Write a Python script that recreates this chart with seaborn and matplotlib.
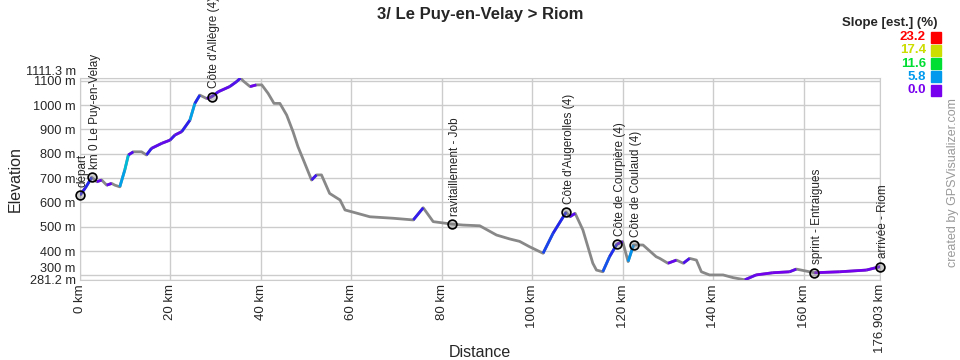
import numpy as np
import pandas as pd
import seaborn as sns
import matplotlib.pyplot as plt
from matplotlib.collections import LineCollection
from matplotlib.colors import LinearSegmentedColormap
from matplotlib.patches import Rectangle
from matplotlib.transforms import ScaledTranslation

# elevation profile (km, m)
km = [0, 1.2, 2.6, 3.7, 4.8, 5.9, 7.0, 7.7, 8.8, 9.9, 10.7, 11.8, 13.6, 14.7, 15.8,
      18.1, 19.9, 21.0, 22.5, 24.3, 25.4, 26.5, 28.0, 29.1, 30.6, 33.1, 34.6, 35.5,
      36.1, 37.6, 39.0, 40.2, 41.6, 42.9, 44.2, 45.7, 47.1, 48.2, 49.7, 51.2, 52.3,
      53.4, 55.2, 57.5, 58.6, 60.0, 64.1, 69.2, 73.7, 75.9, 78.1, 82.2, 84.7, 88.4,
      92.1, 95.0, 97.2, 99.4, 102.4, 104.6, 107.5, 108.3, 109.5, 111.2, 113.4, 114.2,
      115.6, 117.1, 118.7, 120.0, 121.2, 122.4, 124.5, 127.4, 128.2, 130.0, 131.9,
      133.4, 134.8, 136.3, 137.4, 139.2, 142.2, 144.4, 147.0, 149.5, 153.2, 156.9,
      158.4, 162.4, 168.0, 173.9, 176.903]
elev = [630, 660, 703, 685, 692, 671, 678, 671, 664, 733, 795, 808, 808, 795, 822,
        843, 856, 877, 891, 938, 1007, 1041, 1027, 1034, 1055, 1076, 1096, 1111,
        1099, 1076, 1083, 1083, 1048, 1007, 1007, 959, 891, 829, 761, 692, 713,
        713, 637, 610, 569, 562, 541, 535, 528, 578, 521, 511, 507, 504,
        466, 450, 440, 418, 391, 473, 560, 541, 555, 487, 350, 322,
        315, 377, 428, 439, 357, 425, 425, 377, 370, 350, 363,
        350, 370, 363, 315, 302, 302, 291, 282, 302, 311, 315,
        326, 311, 315, 322, 336]

# waypoints
wp_names = ["départ", "km 0 Le Puy-en-Velay", "Côte d'Allègre (4)", "ravitaillement - Job",
            "Côte d'Augerolles (4)", "Côte de Courpière (4)", "Côte de Coulaud (4)",
            "sprint - Entraigues", "arrivée - Riom"]
wp_km = [0, 2.6, 29.1, 82.2, 107.5, 118.7, 122.4, 162.4, 176.903]
wp_elev = [630, 703, 1034, 511, 560, 428, 425, 311, 336]

slope_vals = [23.2, 17.4, 11.6, 5.8, 0.0]
slope_colors = ['#ff0000', '#ccdd00', '#00dd33', '#0099ee', '#7700ee']

x_ticks = [0, 20, 40, 60, 80, 100, 120, 140, 160, 176.903]
y_ticks = [281.2, 300, 400, 500, 600, 700, 800, 900, 1000, 1100, 1111.3]

sns.set_style('white')
plt.rcParams['font.family'] = ['Liberation Sans', 'DejaVu Sans']

df = pd.DataFrame({'km': km, 'elev': elev})
df['slope'] = df['elev'].diff().shift(-1) / (df['km'].diff().shift(-1) * 1000) * 100

fig = plt.figure(figsize=(9.6, 3.6), dpi=100)
ax = fig.add_axes([80 / 960, 1 - 280 / 360, 800 / 960, 202 / 360])

# base line (downhill = gray)
sns.lineplot(data=df, x='km', y='elev', color='#888888', lw=2, ax=ax, zorder=3)

# uphill parts coloured by slope
cmap = LinearSegmentedColormap.from_list('slope', [
    (0, '#7700ee'), (0.125, '#2222ee'), (0.25, '#0099ee'), (0.375, '#00cccc'),
    (0.5, '#00dd33'), (0.75, '#ccdd00'), (1, '#ff0000')])
pts = df[['km', 'elev']].to_numpy()
segs = np.stack([pts[:-1], pts[1:]], axis=1)
s = df['slope'].to_numpy()[:-1]
up = s > 0
lc = LineCollection(segs[up], colors=cmap(np.clip(s[up] / 23.2, 0, 1)), linewidths=2, zorder=4)
ax.add_collection(lc)

# waypoints
wp = pd.DataFrame({'km': wp_km, 'elev': wp_elev, 'name': wp_names})
sns.scatterplot(data=wp, x='km', y='elev', s=40, marker='o', facecolor=(0.5, 0.5, 0.5, 0.4),
                edgecolor='black', linewidth=1.2, ax=ax, zorder=5, clip_on=False)
for _, r in wp.iterrows():
    ax.annotate(r['name'], (r['km'], r['elev']), xytext=(2, 6), textcoords='offset points',
                rotation=90, ha='center', va='bottom', fontsize=8.5, annotation_clip=False)

ax.set_xlim(0, 176.903)
ax.set_ylim(281.2, 1111.3)
ax.set_xticks(x_ticks)
ax.set_xticklabels([f'{v:g} km' for v in x_ticks], rotation=90, fontsize=9.5)
ax.set_yticks(y_ticks)
ax.set_yticklabels([f'{v:g} m' for v in y_ticks], fontsize=9.2)
ax.tick_params(length=0, pad=3)
ax.grid(True, color='#cccccc', lw=1)
for sp in ax.spines.values():
    sp.set_color('#cccccc')

# nudge the crowded end labels up
labels = ax.get_yticklabels()
for i in (1, 10):
    labels[i].set_transform(labels[i].get_transform() + ScaledTranslation(0, 0.075, fig.dpi_scale_trans))

ax.set_xlabel('Distance', fontsize=11.5)
ax.set_ylabel('Elevation', fontsize=11.5)
ax.xaxis.set_label_coords(0.5, -0.32)
ax.yaxis.set_label_coords(-0.072, 0.5)

fig.text(0.5, 1 - 14 / 360, '3/ Le Puy-en-Velay > Riom', ha='center', va='center',
         fontsize=12, fontweight='bold')

# slope legend
fig.text(937 / 960, 1 - 23 / 360, 'Slope [est.] (%)', ha='right', va='center',
         fontsize=9.5, fontweight='bold')
for i, (v, c) in enumerate(zip(slope_vals, slope_colors)):
    yc = 37 + i * 13.3
    fig.text(926 / 960, 1 - yc / 360, f'{v:.1f}', ha='right', va='center',
             fontsize=9.5, fontweight='bold', color=c)
    fig.patches.append(Rectangle((931 / 960, 1 - (yc + 5.5) / 360), 10 / 960, 11 / 360,
                                 transform=fig.transFigure, color=c, figure=fig))

fig.text(953 / 960, 1 - 183 / 360, 'created by GPSVisualizer.com', rotation=90,
         ha='center', va='center', fontsize=9, color='#999999')

fig.savefig('out.png', dpi=100)
